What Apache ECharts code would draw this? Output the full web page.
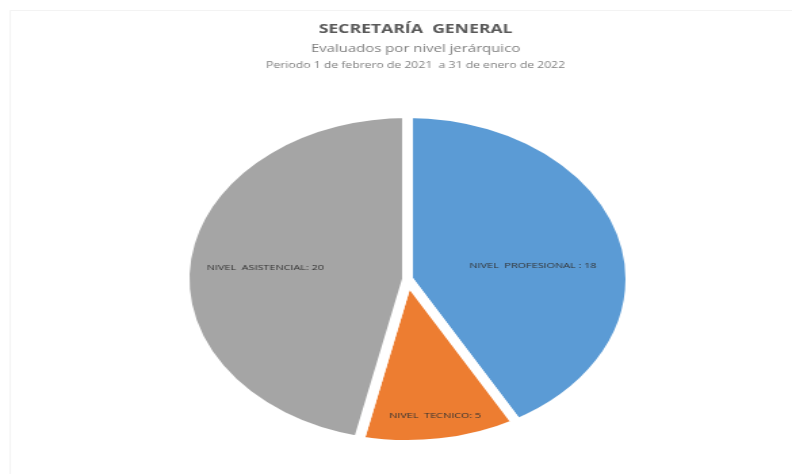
<!DOCTYPE html>
<html>
<head>
<meta charset="utf-8">
<script src="https://cdn.jsdelivr.net/npm/echarts@6/dist/echarts.min.js"></script>
<style>
html,body{margin:0;padding:0;background:#fff;overflow:hidden;}
#wrap{width:792px;height:474px;overflow:hidden;position:relative;}
#chart{width:585px;height:474px;transform:scaleX(1.3538);transform-origin:0 0;position:absolute;left:0;top:0;}
</style>
</head>
<body>
<div id="wrap"><div id="chart"></div></div>
<script>
const titleMain = 'SECRETARÍA  GENERAL';
const titleSub = 'Evaluados por nivel jerárquico';
const titlePeriod = 'Periodo 1 de febrero de 2021  a 31 de enero de 2022';
const categories = ['NIVEL  PROFESIONAL', 'NIVEL  TECNICO', 'NIVEL  ASISTENCIAL'];
const labelSeparators = [' : ', ': ', ': '];
const values = [18, 5, 20];
const colors = ['#5B9BD5', '#ED7D31', '#A5A5A5'];
const labelShift = [[10, 8], [8, 52], [-20, -2]];

const chart = echarts.init(document.getElementById('chart'), null, {renderer: 'canvas'});
chart.setOption({
  animation: false,
  backgroundColor: '#ffffff',
  title: [
    {text: titleMain, left: 302, textAlign: 'center', top: 18,
     textStyle: {fontFamily: 'Open Sans', fontSize: 13, fontWeight: 'bold', color: '#595959'}},
    {text: titleSub, left: 302, textAlign: 'center', top: 38,
     textStyle: {fontFamily: 'Open Sans', fontSize: 11, fontWeight: 'normal', color: '#7f7f7f'}},
    {text: titlePeriod, left: 302, textAlign: 'center', top: 56,
     textStyle: {fontFamily: 'Open Sans', fontSize: 9, fontWeight: 'normal', color: '#7f7f7f'}}
  ],
  graphic: [{
    type: 'rect', silent: true, z: -1,
    shape: {x: 7.5, y: 10.5, width: 800, height: 470},
    style: {fill: 'none', stroke: '#f3f3f3', lineWidth: 1}
  }],
  series: [{
    type: 'pie',
    center: [301, 279],
    radius: [0, 165],
    startAngle: 90,
    clockwise: true,
    data: categories.map((c, i) => ({
      name: c, value: values[i],
      itemStyle: {color: colors[i]},
      label: {formatter: c + labelSeparators[i] + values[i]}
    })),
    itemStyle: {borderColor: '#ffffff', borderWidth: 8},
    label: {show: true, position: 'inside', fontFamily: 'Open Sans', fontSize: 8, color: '#333333'},
    labelLine: {show: false},
    labelLayout: function (p) {
      const s = labelShift[p.dataIndex];
      return {dx: s[0], dy: s[1]};
    },
    emphasis: {disabled: true}
  }]
});
</script>
</body>
</html>
